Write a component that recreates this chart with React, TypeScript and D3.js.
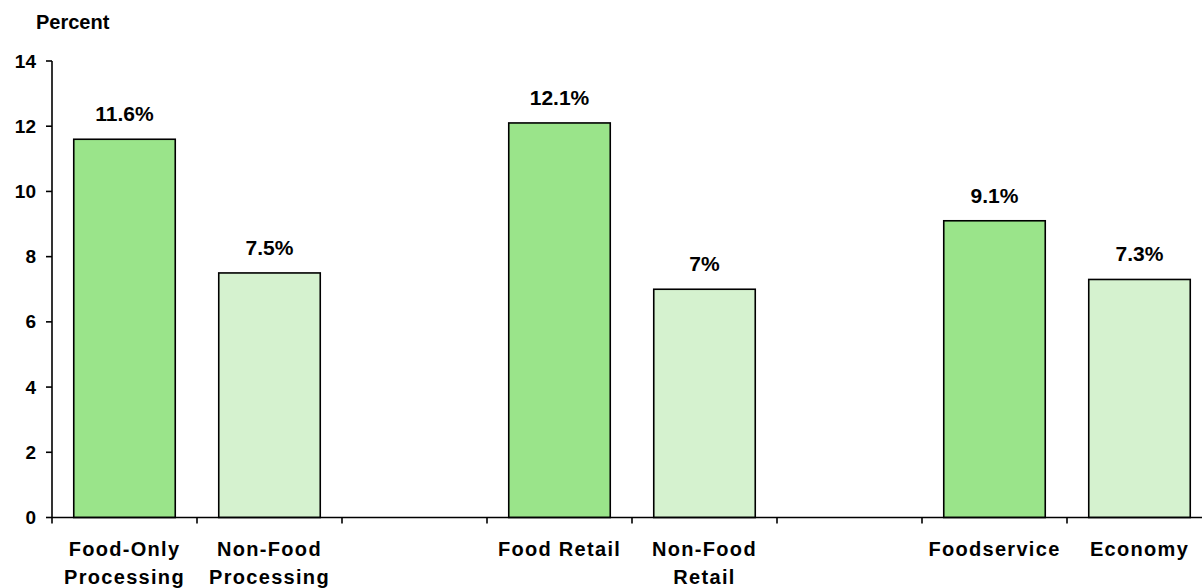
import React from "react";
import * as d3 from "d3";

const categories = [
  "Food-Only|Processing",
  "Non-Food|Processing",
  "gap1",
  "Food Retail",
  "Non-Food|Retail",
  "gap2",
  "Foodservice",
  "Economy",
];
const values: (number | null)[] = [11.6, 7.5, null, 12.1, 7.0, null, 9.1, 7.3];
const valueLabels = ["11.6%", "7.5%", "", "12.1%", "7%", "", "9.1%", "7.3%"];
const kinds = ["food", "nonfood", "", "food", "nonfood", "", "food", "nonfood"];
const yTicks = [0, 2, 4, 6, 8, 10, 12, 14];

const W = 1202;
const H = 588;
const left = 52;
const right = 1212;
const top = 61;
const bottom = 517.5;

export default function App() {
  const x = d3.scaleBand<string>().domain(categories).range([left, right]).paddingInner(0.3).paddingOuter(0.15);
  const y = d3.scaleLinear().domain([0, 14]).range([bottom, top]);
  const step = x.step();
  const boundaries = d3.range(categories.length).map((i) => left + i * step);
  const font = "'Liberation Sans', Arial, sans-serif";
  const colors: Record<string, string> = { food: "#9AE48A", nonfood: "#D5F2CF" };

  return (
    <svg width={W} height={H} style={{ position: "absolute", left: 0, top: 0, background: "#fff" }} fontFamily={font}>
      <text x={36} y={29} fontSize={20} fontWeight="bold">Percent</text>
      {categories.map((c, i) => {
        const v = values[i];
        if (v == null) return null;
        const bx = x(c)!;
        return (
          <g key={c}>
            <rect x={bx} y={y(v)} width={x.bandwidth()} height={bottom - y(v)} fill={colors[kinds[i]]} stroke="#000" strokeWidth={1.6} />
            <text x={bx + x.bandwidth() / 2} y={y(v) - 18} textAnchor="middle" fontSize={21} fontWeight="bold">{valueLabels[i]}</text>
          </g>
        );
      })}
      <line x1={left} x2={left} y1={top} y2={bottom} stroke="#000" strokeWidth={1.6} />
      <line x1={left} x2={W} y1={bottom} y2={bottom} stroke="#000" strokeWidth={1.6} />
      {yTicks.map((t) => (
        <g key={t}>
          <line x1={left - 6} x2={left} y1={y(t)} y2={y(t)} stroke="#000" strokeWidth={1.6} />
          <text x={36} y={y(t) + 6.5} textAnchor="end" fontSize={19} fontWeight="bold">{t}</text>
        </g>
      ))}
      {boundaries.map((b, i) => (
        <line key={i} x1={b} x2={b} y1={bottom} y2={bottom + 6} stroke="#000" strokeWidth={1.6} />
      ))}
      {categories.map((c, i) => {
        if (values[i] == null) return null;
        const lines = c.split("|");
        const cx = x(c)! + x.bandwidth() / 2;
        return (
          <text key={c} x={cx} y={556} textAnchor="middle" fontSize={20} fontWeight="bold" letterSpacing={1.3}>
            {lines.map((l, j) => (
              <tspan key={j} x={cx} dy={j === 0 ? 0 : 28}>{l}</tspan>
            ))}
          </text>
        );
      })}
    </svg>
  );
}
